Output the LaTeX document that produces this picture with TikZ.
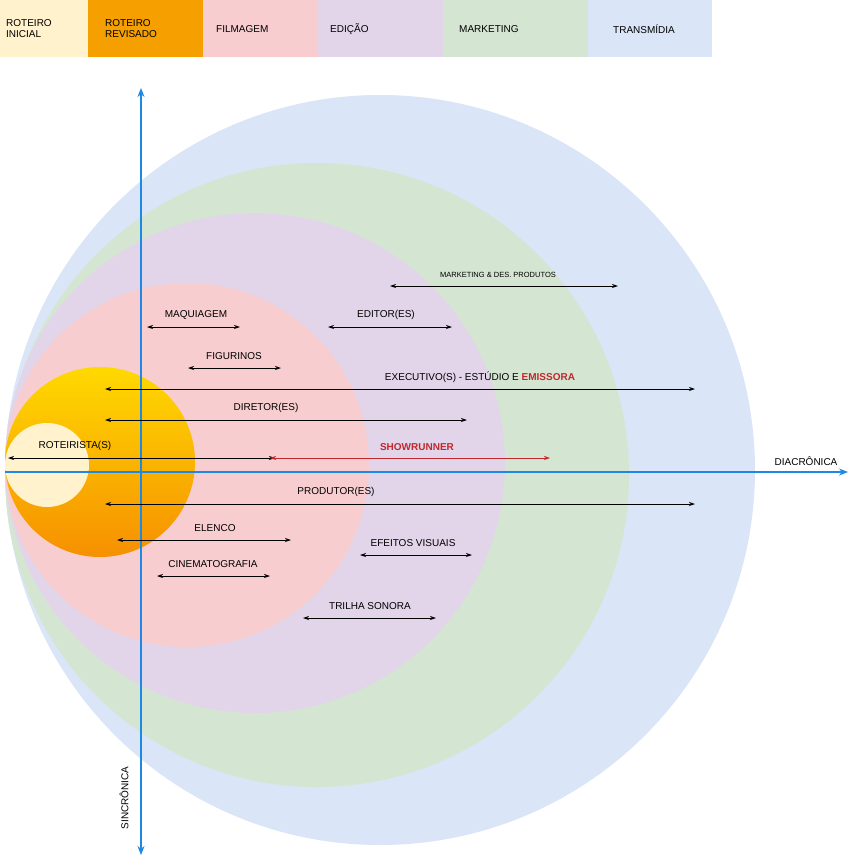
\documentclass[tikz,border=0pt]{standalone}
\usepackage{fontspec}
\setmainfont{Liberation Sans}
\usetikzlibrary{arrows.meta}
\definecolor{cblue}{HTML}{DAE5F7}
\definecolor{cgreen}{HTML}{D4E6D2}
\definecolor{clav}{HTML}{E2D5E9}
\definecolor{cpink}{HTML}{F7CDCF}
\definecolor{corange}{HTML}{F5A000}
\definecolor{ccream}{HTML}{FFF2CC}
\definecolor{caxis}{HTML}{1E88E5}
\definecolor{cred}{HTML}{C0282D}
\begin{document}
\begin{tikzpicture}[x=1pt,y=-1pt,
  lab/.style={font=\fontsize{10}{11}\selectfont,inner sep=0pt},
  leg/.style={font=\fontsize{10}{11}\selectfont,align=left,anchor=west,inner sep=0pt},
  dbl/.style={{Stealth[length=6pt,width=4pt]}-{Stealth[length=6pt,width=4pt]},line width=0.8pt}]
\useasboundingbox (0,0) rectangle (850,857);
% legend
\fill[ccream] (0,0) rectangle (88,57);
\fill[corange] (88,0) rectangle (203,57);
\fill[cpink] (203,0) rectangle (318,57);
\fill[clav] (318,0) rectangle (443,57);
\fill[cgreen] (443,0) rectangle (588,57);
\fill[cblue] (588,0) rectangle (712,57);
\node[leg] (l1) at (6,29) {ROTEIRO\\INICIAL};
\node[leg] (l2) at (105,29) {ROTEIRO\\REVISADO};
\node[leg] (l3) at (216,29) {FILMAGEM};
\node[leg] (l4) at (330,29) {EDIÇÃO};
\node[leg] (l5) at (459,29) {MARKETING};
\node[leg] (l6) at (613,29) {TRANSMÍDIA};
% circles
\fill[cblue] (380,470) circle (375);
\fill[cgreen] (317,475) circle (312);
\fill[clav] (255,463) circle (250);
\fill[cpink] (187,465) circle (182);
\shade[top color=yellow!70!orange, bottom color=corange!90!red] (100,462) circle (95);
\fill[ccream] (47,465) circle (42);
% axes
\coordinate (vt) at (141,88); \coordinate (vb) at (141,855);
\coordinate (hl) at (5,472); \coordinate (hr) at (848,472);
\draw[caxis,line width=1.4pt,{Stealth[length=9pt,width=7pt]}-{Stealth[length=9pt,width=7pt]}] (vb) -- (vt);
\draw[caxis,line width=1.4pt,-{Stealth[length=9pt,width=7pt]}] (hl) -- (hr);
\node[lab,anchor=south] (dia) at (806,466) {DIACRÔNICA};
\node[lab,rotate=90] (sin) at (124,798) {SINCRÔNICA};
% arrows
\newcommand{\rel}[6]{\coordinate (#1a) at (#2,#4); \coordinate (#1b) at (#3,#4);
  \draw[dbl] (#1a) -- (#1b); \node[lab] (#1t) at (#5,#4-12) {#6};}
\draw[dbl] (390,286) coordinate (mka) -- (618,286) coordinate (mkb);
\node[lab,font=\fontsize{7.5}{9}\selectfont] (mkt) at (498,275) {MARKETING \& DES. PRODUTOS};
\rel{mq}{147}{240}{327}{196}{MAQUIAGEM}
\rel{ed}{328}{452}{327}{386}{EDITOR(ES)}
\rel{fg}{188}{281}{368}{234}{FIGURINOS}
\rel{ex}{105}{695}{389}{480}{EXECUTIVO(S) - ESTÚDIO E \textcolor{cred}{\bfseries EMISSORA}}
\rel{di}{105}{467}{420}{266}{DIRETOR(ES)}
\rel{ro}{8}{275}{458}{75}{ROTEIRISTA(S)}
\coordinate (sha) at (270,458); \coordinate (shb) at (550,458);
\draw[dbl,cred] (sha) -- (shb);
\node[lab,text=cred,font=\fontsize{10}{11}\selectfont\bfseries] (sht) at (417,447) {SHOWRUNNER};
\rel{pr}{105}{695}{504}{336}{PRODUTOR(ES)}
\rel{el}{117}{291}{540}{215}{ELENCO}
\rel{ef}{360}{472}{555}{413}{EFEITOS VISUAIS}
\rel{ci}{157}{270}{576}{213}{CINEMATOGRAFIA}
\rel{tr}{303}{436}{618}{370}{TRILHA SONORA}
\end{tikzpicture}
\end{document}
